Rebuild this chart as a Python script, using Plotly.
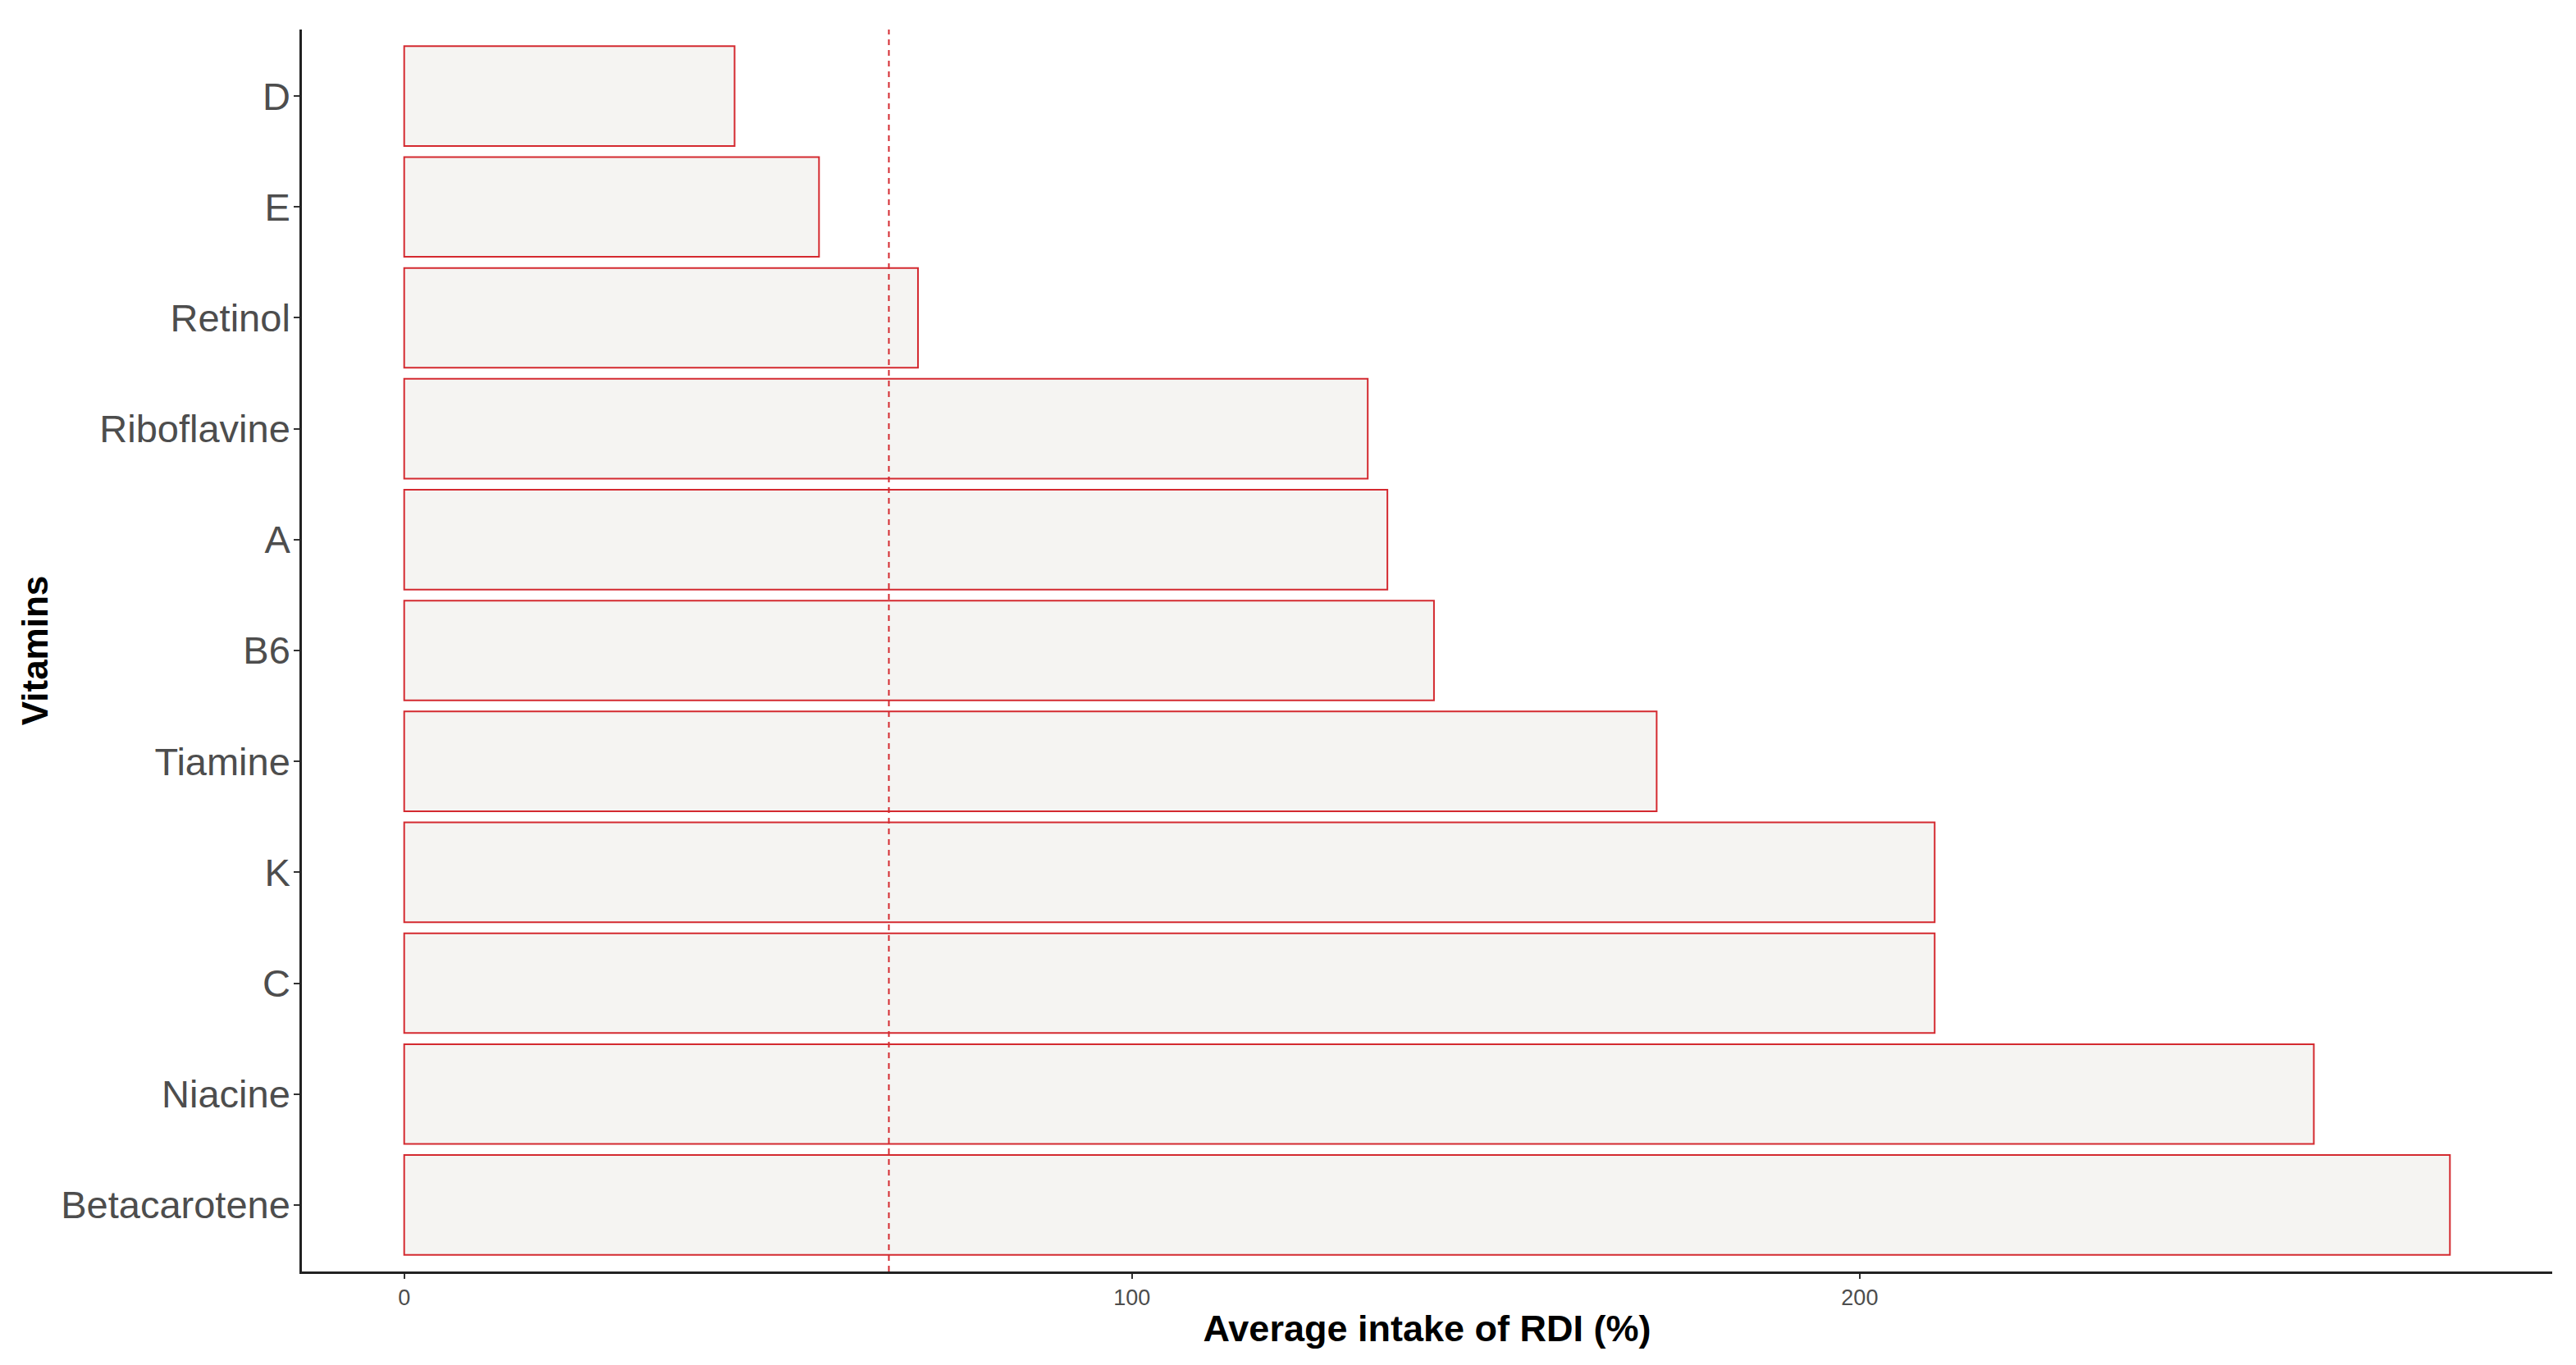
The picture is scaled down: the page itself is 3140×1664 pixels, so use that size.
import plotly.graph_objects as go

# Data (bottom to top)
vitamins = ["Betacarotene", "Niacine", "C", "K", "Tiamine", "B6", "A",
            "Riboflavine", "Retinol", "E", "D"]
intake = [281.1, 262.4, 210.3, 210.3, 172.1, 141.5, 135.1, 132.4, 70.6, 57.0, 45.4]
reference_line = 66.6
x_ticks = [0, 100, 200]

W, H = 3132, 1656
max_v = max(intake)

fig = go.Figure()
fig.add_trace(go.Bar(
    x=intake, y=vitamins, orientation="h", width=0.9,
    marker=dict(color="#F5F4F2", line=dict(color="#D42A30", width=2)),
    showlegend=False, hoverinfo="x+y",
))

fig.add_shape(type="line", xref="x", yref="paper",
              x0=reference_line, x1=reference_line, y0=0, y1=1,
              line=dict(color="#D42A30", width=2, dash="7px,6px"))

fig.update_layout(
    width=W, height=H,
    paper_bgcolor="white", plot_bgcolor="white",
    margin=dict(l=360, r=29, t=28, b=114, autoexpand=False),
    font=dict(family="Liberation Sans, Arial, sans-serif"),
    bargap=0.1,
)

fig.update_xaxes(
    range=[-0.05 * max_v, 1.05 * max_v],
    tickvals=x_ticks, ticktext=[str(v) for v in x_ticks],
    showgrid=False, zeroline=False,
    showline=True, linecolor="#222222", linewidth=2.5,
    ticks="outside", ticklen=6, tickwidth=2, tickcolor="#333333",
    tickfont=dict(size=27, color="#4D4D4D"),
    title=dict(text="<b>Average intake of RDI (%)</b>", standoff=8,
               font=dict(size=45, color="black")),
    automargin=False,
)

fig.update_yaxes(
    categoryorder="array", categoryarray=vitamins,
    range=[-0.6, len(vitamins) - 0.4],
    showgrid=False, zeroline=False,
    showline=True, linecolor="#222222", linewidth=2.5,
    ticks="outside", ticklen=7, tickwidth=2, tickcolor="#333333",
    ticklabelstandoff=-5,
    tickfont=dict(size=47, color="#4D4D4D"),
    title=dict(text="<b>Vitamins</b>", standoff=2,
               font=dict(size=44, color="black")),
    automargin=False,
)

fig.write_html("out.html")
